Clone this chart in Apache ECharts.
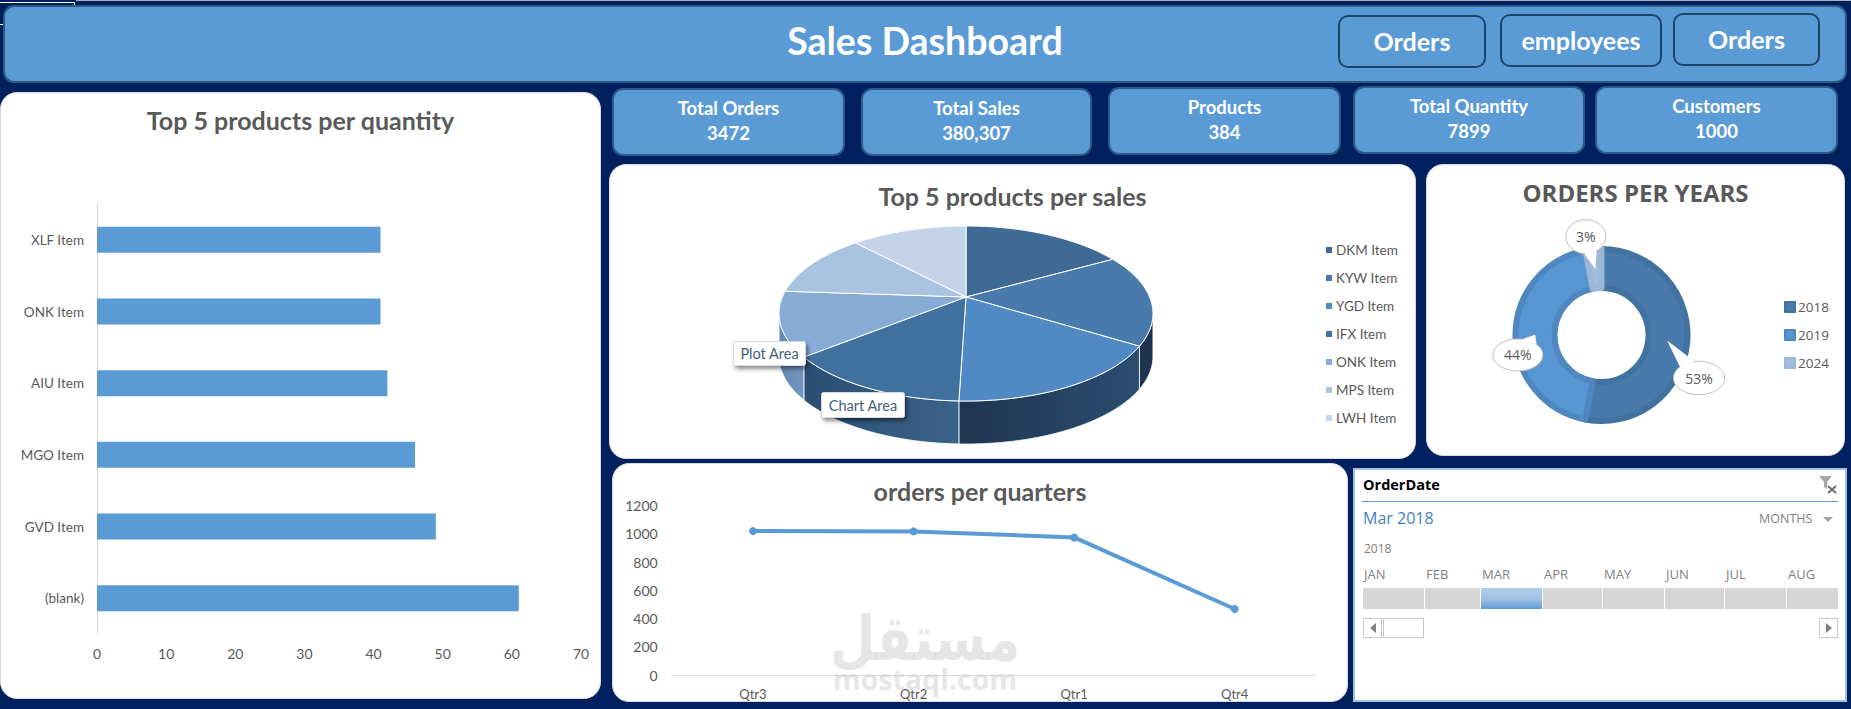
<!DOCTYPE html>
<html>
<head>
<meta charset="utf-8">
<title>Sales Dashboard</title>
<script src="https://cdn.jsdelivr.net/npm/echarts@6/dist/echarts.min.js"></script>
<style>
  html, body { margin: 0; padding: 0; background: #002060; }
  body { position: relative; width: 1851px; height: 709px; overflow: hidden; font-family: Lato, sans-serif; }
  .box { position: absolute; box-sizing: border-box; }
  .blue { background: #5b9bd5; border: 2px solid #2c5a85; border-radius: 11px; color: #fff; font-weight: 700; text-align: center; }
  .card { background: #fff; border: 1px solid #d9d9d9; border-radius: 17px; overflow: hidden; }
  .btn { border: 2px solid #1f4467; background: #5b9bd5; }
  .txt { position: absolute; white-space: nowrap; }
  #ruler { position: absolute; left: 76px; top: 0; right: 0; height: 1px; background: #aeb2ba; }
  #cell { position: absolute; left: 0; top: 2px; width: 75px; height: 3px; box-sizing: border-box; border-top: 1px solid #fff; border-right: 1px solid #fff; }
  #cellTick { position: absolute; left: 0; top: 24px; width: 3px; height: 1px; background: #fff; }
  #markAr { position: absolute; left: 825px; top: 613px; width: 200px; height: 50px; line-height: 50px; text-align: center; font-family: "DejaVu Sans", sans-serif; font-weight: 700; font-size: 52px; color: rgba(205,205,205,.5); transform: scaleY(1.2); pointer-events: none; }
  #markEn { position: absolute; left: 825px; top: 667px; width: 200px; height: 24px; line-height: 24px; text-align: center; font-family: "Open Sans", sans-serif; font-weight: 700; font-size: 28.5px; color: rgba(205,205,205,.5); pointer-events: none; }
  #slicer { left: 1353px; top: 468px; width: 494px; height: 234px; background: #fff; border: 2px solid #9dc3e6; font-family: "Open Sans", sans-serif; }
</style>
</head>
<body>
<div id="ruler"></div>
<div id="cell"></div>
<div id="cellTick"></div>
<div class="box blue" style="left:3px;top:5px;width:1844px;height:78px"></div>
<div class="txt" style="left:725px;top:18px;width:400px;text-align:center;color:#fff;font-weight:700;font-size:37.5px">Sales Dashboard</div>
<div id="buttons"></div>
<div id="kpis"></div>

<div class="box card" id="barChart" style="left:0;top:92px;width:601px;height:607px"></div>
<div class="box card" id="pieChart" style="left:609px;top:164px;width:807px;height:295px"></div>
<div class="box card" id="donutChart" style="left:1426px;top:164px;width:419px;height:292px"></div>
<div class="box card" id="lineChart" style="left:612px;top:463px;width:736px;height:239px"></div>

<div class="box" id="slicer"></div>

<div id="markAr">مستقل</div>
<div id="markEn">mostaql.com</div>

<script>
// values
const buttonLabels = ['Orders', 'employees', 'Orders'];
const kpiLabels = ['Total Orders', 'Total Sales', 'Products', 'Total Quantity', 'Customers'];
const kpiValues = ['3472', '380,307', '384', '7899', '1000'];

const qtyProducts = ['(blank)', 'GVD Item', 'MGO Item', 'AIU Item', 'ONK Item', 'XLF Item'];
const qtyValues = [61, 49, 46, 42, 41, 41];

const salesProducts = ['DKM Item', 'KYW Item', 'YGD Item', 'IFX Item', 'ONK Item', 'MPS Item', 'LWH Item'];
const salesShares = [16.9, 16.9, 16.7, 13.7, 11.9, 11.9, 12.0];

const orderYears = ['2018', '2019', '2024'];
const yearOrders = [1840, 1528, 104];

const quarters = ['Qtr3', 'Qtr2', 'Qtr1', 'Qtr4'];
const quarterOrders = [1020, 1018, 975, 468];

const sliceMonths = ['JAN', 'FEB', 'MAR', 'APR', 'MAY', 'JUN', 'JUL', 'AUG'];
const selectedMonth = 'MAR';

const GREY = '#595959';
const BAR_BLUE = '#5b9bd5';

// header + kpi boxes
const btnBoxes = [[1338, 15, 148, 53], [1500, 14, 162, 53], [1673, 13, 147, 53]];
document.getElementById('buttons').innerHTML = buttonLabels.map((t, i) => {
  const b = btnBoxes[i];
  return `<div class="box btn" style="left:${b[0]}px;top:${b[1]}px;width:${b[2]}px;height:${b[3]}px;border-radius:10px;color:#fff;font-weight:700;font-size:25px;line-height:48px;text-align:center">${t}</div>`;
}).join('');

const kpiBoxes = [[612, 88, 233, 68], [861, 88, 231, 68], [1108, 87, 233, 68], [1353, 86, 232, 68], [1595, 86, 243, 68]];
document.getElementById('kpis').innerHTML = kpiLabels.map((t, i) => {
  const b = kpiBoxes[i];
  return `<div class="box blue" style="left:${b[0]}px;top:${b[1]}px;width:${b[2]}px;height:${b[3]}px;font-size:18.5px;line-height:25px;padding-top:6px">${t}<br>${kpiValues[i]}</div>`;
}).join('');

// bar chart
const barChart = echarts.init(document.getElementById('barChart'), null, { renderer: 'svg' });
barChart.setOption({
  animation: false,
  title: { text: 'Top 5 products per quantity', left: 'center', top: 9, textStyle: { color: GREY, fontFamily: 'Lato', fontWeight: 'bold', fontSize: 25 } },
  grid: { left: 96, right: 19, top: 111, height: 430 },
  xAxis: {
    type: 'value', min: 0, max: 70, interval: 10, splitLine: { show: false }, axisLine: { show: false }, axisTick: { show: false },
    axisLabel: { color: GREY, fontFamily: 'Lato', fontSize: 14, margin: 12 }
  },
  yAxis: {
    type: 'category', data: qtyProducts, axisTick: { show: false }, axisLine: { lineStyle: { color: '#d9d9d9' } },
    axisLabel: { color: GREY, fontFamily: 'Lato', fontSize: 13.5, margin: 13, padding: [0, 0, 6, 0] }
  },
  series: [{ type: 'bar', data: qtyValues, barWidth: 26, itemStyle: { color: BAR_BLUE }, silent: true }]
});

// 3d pie. Echarts has no tilted pie so the slices go through a custom series,
// the angles come from salesShares, the projection keeps the near side bigger.
const PIE = { x: 356, y: 132, a: 183.6, b: 84.4, k: 0.1886, depth: 43 };
const pieColors = ['#3e6a94', '#487bac', '#5089c3', '#41729f', '#88abd6', '#a9c3e0', '#c3d4e8'];
const wallColors = [
  ['#1d324d', '#1d324d'], ['#1d324d', '#1f3650'], ['#2b4d70', '#1f3550'], ['#3b648c', '#2b4e72'],
  ['#7397bf', '#6289b5'], ['#6289b5', '#6289b5'], ['#6289b5', '#6289b5']
];
const shareTotal = salesShares.reduce((a, b) => a + b, 0);

function rimPoint(deg) {
  const t = deg * Math.PI / 180;
  const u = Math.sin(t), v = Math.cos(t), d = 1 + PIE.k * v;
  return [PIE.x + PIE.a * u / d, PIE.y - PIE.b * v / d];
}
function arcPoints(from, to) {
  const pts = [];
  const n = Math.max(2, Math.ceil(to - from));
  for (let i = 0; i <= n; i++) pts.push(rimPoint(from + (to - from) * i / n));
  return pts;
}

let shareSoFar = 0;
const pieSeries = salesProducts.map((name, i) => {
  const from = shareSoFar / shareTotal * 360;
  shareSoFar += salesShares[i];
  const to = shareSoFar / shareTotal * 360;
  return {
    type: 'custom', name: name, coordinateSystem: 'none', silent: true,
    itemStyle: { color: pieColors[i] },
    data: [salesShares[i]],
    renderItem: function () {
      const children = [];
      // wall only shows on the near side of the rim
      const wFrom = Math.max(from, 100.9), wTo = Math.min(to, 259.1);
      if (wTo > wFrom) {
        const rim = arcPoints(wFrom, wTo);
        const low = rim.map(p => [p[0], p[1] + PIE.depth]).reverse();
        children.push({
          type: 'polygon', shape: { points: rim.concat(low) },
          style: {
            fill: new echarts.graphic.LinearGradient(0, 0, 1, 0, [
              { offset: 0, color: wallColors[i][1] }, { offset: 1, color: wallColors[i][0] }
            ]),
            stroke: '#fff', lineWidth: 0.8
          }
        });
      }
      children.push({
        type: 'polygon', shape: { points: [[PIE.x, PIE.y]].concat(arcPoints(from, to)) },
        style: { fill: pieColors[i], stroke: '#fff', lineWidth: 1 }
      });
      return { type: 'group', children: children };
    }
  };
});

function hoverTip(left, top, w, h, text) {
  return {
    type: 'group', left: left, top: top, silent: true,
    children: [
      { type: 'rect', z: 20, shape: { width: w, height: h, r: 2 }, style: { fill: '#fff', stroke: '#d4dbe4', lineWidth: 1, shadowBlur: 4, shadowOffsetX: 2, shadowOffsetY: 3, shadowColor: 'rgba(0,0,0,.45)' } },
      { type: 'text', z: 21, x: w / 2, y: h / 2, style: { text: text, fill: '#44607f', font: '14.5px Lato', align: 'center', verticalAlign: 'middle' } }
    ]
  };
}

const pieChart = echarts.init(document.getElementById('pieChart'), null, { renderer: 'svg' });
pieChart.setOption({
  animation: false,
  title: { text: 'Top 5 products per sales', left: 'center', top: 13, textStyle: { color: GREY, fontFamily: 'Lato', fontWeight: 'bold', fontSize: 25 } },
  legend: {
    orient: 'vertical', left: 711, top: 73, icon: 'rect', itemWidth: 6, itemHeight: 6, itemGap: 14,
    data: salesProducts, selectedMode: false, textStyle: { color: GREY, fontFamily: 'Lato', fontSize: 13.5, padding: [0, 0, 0, -1] }
  },
  series: pieSeries,
  graphic: [hoverTip(123, 176, 72, 24, 'Plot Area'), hoverTip(211, 227, 83, 25, 'Chart Area')]
});

// donut with speech bubble labels
const DONUT = { x: 174.5, y: 170, rIn: 47, rOut: 86 };
const donutFill = ['#487bac', '#5896d3', '#a2bcdc'];
const donutEdge = ['#4273a0', '#4f87c0', '#9bb6d8'];
const bubbleSpots = [{ turn: 18.4, r: 106.6, rx: 25.6, ry: 16.7 }, { turn: -13.4, r: 86, rx: 25, ry: 16 }, { turn: -3.7, r: 99.6, rx: 20, ry: 17 }];
const yearTotal = yearOrders.reduce((a, b) => a + b, 0);

function polar(deg, r) {
  const t = deg * Math.PI / 180;
  return [DONUT.x + r * Math.sin(t), DONUT.y - r * Math.cos(t)];
}

const donutChart = echarts.init(document.getElementById('donutChart'), null, { renderer: 'svg' });
donutChart.setOption({
  animation: false,
  title: { text: 'ORDERS PER YEARS', left: 'center', top: 10, textStyle: { color: GREY, fontFamily: 'Open Sans', fontWeight: 'bold', fontSize: 24 } },
  legend: {
    orient: 'vertical', left: 352, top: 130, icon: 'rect', itemWidth: 10, itemHeight: 10, itemGap: 14,
    data: orderYears, selectedMode: false, textStyle: { color: GREY, fontFamily: 'Open Sans', fontSize: 13.5, padding: [0, 0, 0, -2] }
  },
  series: [
    {
      type: 'pie', center: [DONUT.x, DONUT.y], radius: [DONUT.rIn, DONUT.rOut], startAngle: 90, clockwise: true, silent: true,
      label: { show: false }, labelLine: { show: false },
      data: orderYears.map((y, i) => ({ name: y, value: yearOrders[i], itemStyle: { color: donutFill[i], borderColor: donutEdge[i], borderWidth: 6 } }))
    },
    {
      type: 'custom', coordinateSystem: 'none', silent: true, z: 5,
      data: yearOrders,
      renderItem: function (params, api) {
        const i = params.dataIndex;
        const before = yearOrders.slice(0, i).reduce((a, b) => a + b, 0);
        const mid = (before + api.value(0) / 2) / yearTotal * 360;
        const s = bubbleSpots[i];
        const c = polar(mid + s.turn, s.r);
        const tip = polar(mid, 66.5);
        const a = Math.atan2((tip[1] - c[1]) / s.ry, (tip[0] - c[0]) / s.rx);
        const tail = [tip,
          [c[0] + s.rx * Math.cos(a - 0.32), c[1] + s.ry * Math.sin(a - 0.32)],
          [c[0] + s.rx * Math.cos(a + 0.32), c[1] + s.ry * Math.sin(a + 0.32)]];
        return {
          type: 'group', children: [
            { type: 'polygon', shape: { points: tail }, style: { fill: '#fff', stroke: '#bfbfbf', lineWidth: 0.8 } },
            { type: 'ellipse', shape: { cx: c[0], cy: c[1], rx: s.rx, ry: s.ry }, style: { fill: '#fff', stroke: '#bfbfbf', lineWidth: 1 } },
            { type: 'polygon', shape: { points: tail }, style: { fill: '#fff' } },
            { type: 'text', x: c[0], y: c[1], style: { text: Math.round(api.value(0) / yearTotal * 100) + '%', fill: GREY, font: '14px "Open Sans"', align: 'center', verticalAlign: 'middle' } }
          ]
        };
      }
    }
  ]
});

// line chart
const lineChart = echarts.init(document.getElementById('lineChart'), null, { renderer: 'svg' });
lineChart.setOption({
  animation: false,
  title: { text: 'orders per quarters', left: 'center', top: 9, textStyle: { color: GREY, fontFamily: 'Lato', fontWeight: 'bold', fontSize: 25 } },
  grid: { left: 59.7, right: 32, top: 41.7, height: 169.3 },
  xAxis: {
    type: 'category', data: quarters, axisTick: { show: false }, axisLine: { lineStyle: { color: '#d9d9d9' } },
    axisLabel: { color: GREY, fontFamily: 'Lato', fontSize: 13, margin: 12 }
  },
  yAxis: {
    type: 'value', min: 0, max: 1200, interval: 200, splitLine: { show: false }, axisLine: { show: false }, axisTick: { show: false },
    axisLabel: { color: GREY, fontFamily: 'Lato', fontSize: 14, margin: 15, padding: [0, 0, 2, 0], formatter: v => String(v) }
  },
  series: [{
    type: 'line', data: quarterOrders, symbol: 'circle', symbolSize: 8, silent: true,
    lineStyle: { color: BAR_BLUE, width: 4 }, itemStyle: { color: BAR_BLUE }
  }]
});

// slicer panel, plain html, it is not a chart
const cellEdges = [[1363, 1424], [1425, 1480], [1481, 1542], [1543, 1602], [1603, 1664], [1665, 1724], [1725, 1786], [1787, 1838]];
const labelLefts = [1364, 1426, 1482, 1544, 1604, 1666, 1726, 1788];
let slicerHtml = '';
function put(x, y, css, text) {
  slicerHtml += `<div class="txt" style="left:${x - 1355}px;top:${y - 470}px;${css}">${text}</div>`;
}
put(1363, 475, 'font-size:14.5px;line-height:20px;font-weight:700;color:#000', 'OrderDate');
put(1362, 501, 'width:476px;height:1px;background:#5b9bd5', '');
put(1363, 507, 'font-size:16px;line-height:22px;color:#3f7fbf', 'Mar 2018');
put(1759, 510, 'font-size:12.5px;line-height:18px;color:#7f7f7f', 'MONTHS');
put(1823, 517, 'width:0;height:0;border-left:5px solid transparent;border-right:5px solid transparent;border-top:5px solid #a6a6a6', '');
put(1364, 541, 'font-size:12px;line-height:16px;color:#7f7f7f', '2018');
sliceMonths.forEach((m, i) => {
  put(labelLefts[i], 566, 'font-size:13px;line-height:16px;color:#7f7f7f', m);
  const bg = m === selectedMonth ? 'linear-gradient(#b4cde9,#9fbfe4 55%,#5b9bd5)' : '#d6d6d6';
  put(cellEdges[i][0], 588, `width:${cellEdges[i][1] - cellEdges[i][0]}px;height:21px;background:${bg}`, '');
});
put(1363, 618, 'width:19px;height:20px;box-sizing:border-box;border:1px solid #c8c8c8', '');
put(1383, 618, 'width:41px;height:20px;box-sizing:border-box;border:1px solid #c8c8c8', '');
put(1819, 618, 'width:19px;height:20px;box-sizing:border-box;border:1px solid #c8c8c8', '');
put(1370, 623, 'width:0;height:0;border-top:5px solid transparent;border-bottom:5px solid transparent;border-right:6px solid #7f7f7f', '');
put(1826, 623, 'width:0;height:0;border-top:5px solid transparent;border-bottom:5px solid transparent;border-left:6px solid #7f7f7f', '');
put(1818, 474, '', '<svg width="22" height="22" viewBox="0 0 22 22"><path d="M1 2H14L9 8V15L6 13V8Z" fill="#a6a6a6"/><path d="M10 12L18 19M18 12L10 19" stroke="#6d6d6d" stroke-width="2"/></svg>');
document.getElementById('slicer').innerHTML = slicerHtml;
</script>
</body>
</html>
